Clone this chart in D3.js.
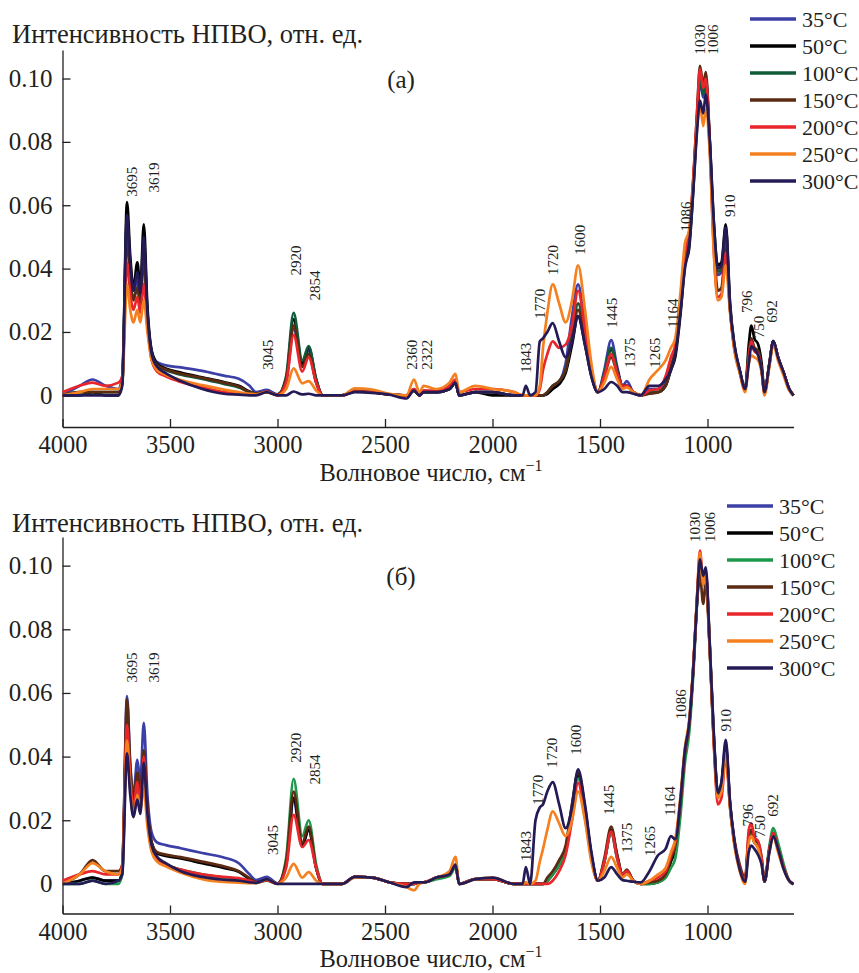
<!DOCTYPE html>
<html>
<head>
<meta charset="utf-8">
<style>
  body { margin: 0; background: #fff; }
  svg text { font-family: "Liberation Serif", "Times New Roman", serif; fill: #231f20; }
  .axis path, .axis line { stroke: #231f20; stroke-width: 1.3; }
</style>
</head>
<body>
<svg id="chart" width="859" height="973"></svg>
<script src="https://cdn.jsdelivr.net/npm/d3@7/dist/d3.min.js"></script>
<script>
// wavenumber grid, cm-1 (shared by all spectra)
const waveNumbers = [
  4000, 3920, 3860, 3800, 3740, 3722, 3700, 3685, 3670, 3652,
  3638, 3622, 3605, 3585, 3560, 3520, 3450, 3350, 3250, 3180,
  3130, 3100, 3050, 3000, 2960, 2925, 2885, 2855, 2820, 2790,
  2700, 2640, 2560, 2480, 2400, 2365, 2340, 2320, 2260, 2200,
  2172, 2155, 2080, 2000, 1900, 1860, 1845, 1825, 1800, 1780,
  1765, 1745, 1720, 1690, 1660, 1630, 1602, 1570, 1540, 1510,
  1480, 1448, 1420, 1395, 1375, 1345, 1310, 1270, 1230, 1195,
  1170, 1150, 1125, 1105, 1086, 1065, 1048, 1035, 1020, 1008,
  990, 970, 952, 935, 915, 895, 875, 850, 825, 808,
  796, 782, 764, 748, 735, 712, 694, 672, 645, 620,
  600
];

const temps = ["35°C", "50°C", "100°C", "150°C", "200°C", "250°C", "300°C"];

// panel (а)
const a35 = [
  0, .003, .005, .003, .002, .006, .055, .040, .033, .036,
  .031, .048, .026, .014, .0105, .0095, .0088, .0077, .0062, .0052,
  .003, .001, .0017, .0003, .004, .021, .010, .014, .004, 0,
  0, .0015, .0012, .0003, 0, .002, 0, .0015, .001, .002,
  .004, 0, .001, .001, 0, 0, 0, 0, 0, 0,
  0, .0005, .002, .004, .010, .025, .035, .022, .008, .001,
  .008, .0174, .009, .003, .0045, .001, 0, .002, .002, .004,
  .009, .014, .028, .043, .049, .068, .088, .099, .094, .097,
  .079, .050, .038, .039, .048, .027, .015, .0075, .002, .012,
  .016, .014, .013, .008, .001, .010, .017, .012, .007, .002,
  0
];
const a50 = [
  0, 0, .001, 0, 0, .004, .061, .044, .034, .042,
  .034, .054, .028, .014, .010, .0085, .0072, .0057, .0042, .003,
  .0012, .0005, .001, .0002, .005, .024, .010, .015, .005, 0,
  0, .0012, .001, .0003, 0, .0015, 0, .001, .001, .002,
  .004, 0, .001, 0, 0, 0, 0, 0, 0, 0,
  0, .0005, .002, .0035, .007, .016, .025, .016, .006, .001,
  .006, .0145, .008, .003, .003, .001, 0, .001, .001, .003,
  .008, .012, .026, .041, .046, .066, .087, .101, .096, .100,
  .081, .054, .041, .042, .054, .029, .016, .008, .002, .016,
  .022, .018, .016, .010, .001, .010, .017, .012, .007, .002,
  0
];
const a100 = [
  0, .001, .001, .001, .001, .004, .054, .038, .031, .034,
  .030, .045, .024, .013, .0095, .008, .0065, .0052, .0036, .0025,
  .001, .0005, .001, .0002, .006, .026, .011, .0155, .005, 0,
  0, .0012, .001, .0003, 0, .0015, 0, .001, .001, .002,
  .004, 0, .001, .001, 0, 0, 0, 0, 0, 0,
  0, .001, .003, .0045, .008, .019, .029, .019, .007, .001,
  .007, .015, .008, .003, .003, .001, 0, .001, .001, .003,
  .009, .014, .028, .043, .048, .068, .088, .100, .095, .098,
  .080, .052, .039, .040, .050, .028, .015, .0075, .002, .013,
  .017, .015, .014, .008, .001, .010, .017, .012, .007, .002,
  0
];
const a150 = [
  0, .001, .001, .001, .001, .004, .050, .036, .030, .034,
  .029, .043, .024, .013, .0095, .0082, .0068, .0055, .004, .0028,
  .001, .0005, .001, .0002, .005, .022, .009, .013, .004, 0,
  0, .0012, .001, .0003, 0, .0015, 0, .001, .001, .002,
  .004, 0, .001, .001, 0, 0, 0, 0, 0, 0,
  0, .001, .003, .0045, .008, .018, .027, .018, .007, .001,
  .006, .012, .007, .003, .003, .001, 0, .0005, .001, .003,
  .009, .014, .028, .043, .049, .069, .090, .104, .098, .102,
  .081, .048, .033, .034, .046, .027, .015, .0075, .002, .013,
  .018, .015, .014, .008, .001, .010, .017, .012, .007, .002,
  0
];
const a200 = [
  .001, .003, .004, .003, .004, .006, .042, .032, .027, .031,
  .026, .035, .022, .011, .0075, .006, .0042, .0025, .001, .0005,
  .0002, .0002, .0012, 0, .004, .019, .0075, .012, .004, 0,
  0, .0012, .001, .0003, 0, .002, 0, .0015, .0015, .003,
  .005, .001, .002, .002, .001, 0, 0, 0, 0, .002,
  .008, .013, .017, .015, .016, .022, .033, .021, .008, .001,
  .006, .013, .007, .003, .003, .001, 0, .0015, .002, .006,
  .012, .016, .030, .045, .051, .070, .090, .103, .097, .100,
  .080, .045, .031, .032, .045, .027, .015, .0075, .002, .012,
  .017, .014, .013, .008, .001, .010, .017, .012, .007, .002,
  0
];
const a250 = [
  0, .001, .002, .002, .002, .004, .035, .027, .023, .027,
  .023, .030, .020, .011, .008, .0065, .0048, .0032, .0018, .001,
  .0005, .0003, .001, 0, .002, .0085, .0038, .0045, .0015, 0,
  0, .0022, .0018, .0005, 0, .005, .001, .003, .002, .004,
  .0068, .001, .003, .002, .001, 0, 0, 0, 0, .003,
  .015, .026, .035, .029, .023, .030, .041, .027, .010, .001,
  .004, .009, .005, .002, .0025, .001, 0, .005, .008, .011,
  .015, .018, .033, .048, .052, .068, .085, .092, .085, .090,
  .077, .044, .030, .031, .041, .026, .014, .007, .001, .010,
  .0125, .012, .011, .007, 0, .009, .016, .011, .006, .0015,
  0
];
const a300 = [
  0, 0, 0, 0, 0, .003, .057, .042, .033, .039,
  .032, .050, .026, .013, .009, .007, .0045, .002, .0005, .0002,
  0, 0, .001, 0, 0, .0012, .0003, .0005, 0, 0,
  0, .001, .0008, .0002, -.001, .0015, 0, .001, .001, .002,
  .004, 0, .001, .001, 0, 0, .003, 0, .001, .017,
  .018, .020, .0228, .017, .012, .017, .025, .016, .006, .001,
  .002, .0042, .003, .001, .001, .0005, 0, .003, .003, .005,
  .008, .013, .027, .040, .047, .066, .084, .093, .089, .095,
  .081, .054, .040, .041, .053, .028, .016, .008, .002, .010,
  .0155, .0145, .0125, .008, .001, .010, .0172, .012, .007, .002,
  0
];

// panel (б)
const b35 = [
  0, .001, .002, .001, .001, .004, .059, .038, .028, .039,
  .032, .0506, .028, .016, .013, .0122, .0112, .0097, .0083, .0065,
  .003, .0012, .0022, .0002, .006, .026, .012, .017, .005, 0,
  0, .0022, .002, .0005, 0, 0, .0005, .0005, .002, .003,
  .006, 0, .0015, .0015, 0, 0, 0, 0, 0, 0,
  0, .001, .003, .006, .011, .025, .035, .024, .009, .001,
  .007, .016, .008, .003, .004, .001, 0, .0005, .001, .003,
  .008, .012, .026, .041, .049, .069, .090, .102, .096, .098,
  .076, .046, .029, .032, .044, .025, .013, .005, .001, .014,
  .016, .013, .012, .007, .0007, .011, .016, .011, .005, .001,
  0
];
const b50 = [
  0, .001, .002, .001, .001, .004, .052, .034, .025, .033,
  .026, .040, .023, .013, .0095, .0088, .008, .0065, .005, .0038,
  .0015, .0005, .0012, .0001, .006, .027, .012, .017, .005, 0,
  0, .0022, .002, .0005, 0, 0, .0005, .0005, .002, .003,
  .006, 0, .0015, .0015, 0, 0, 0, 0, 0, 0,
  0, .001, .003, .006, .010, .024, .034, .023, .009, .001,
  .007, .017, .009, .003, .004, .001, 0, 0, .0005, .002,
  .007, .011, .026, .041, .049, .069, .090, .101, .094, .097,
  .075, .045, .029, .031, .043, .025, .013, .005, .001, .014,
  .017, .014, .012, .007, .0007, .011, .016, .011, .005, .001,
  0
];
const b100 = [
  0, 0, .001, 0, 0, .003, .050, .032, .023, .031,
  .024, .037, .021, .011, .0075, .006, .0045, .003, .002, .0016,
  .0008, .0003, .001, .0001, .008, .033, .015, .020, .006, 0,
  0, .0022, .002, .0005, 0, 0, .0005, .0005, .0015, .0025,
  .005, 0, .0015, .0015, 0, 0, 0, 0, 0, 0,
  0, .001, .003, .006, .010, .023, .033, .022, .008, .001,
  .007, .016, .008, .003, .004, .001, 0, 0, .0005, .002,
  .005, .008, .022, .038, .047, .067, .089, .100, .094, .097,
  .075, .045, .028, .031, .042, .024, .013, .005, .001, .014,
  .016, .013, .012, .007, .0007, .012, .0175, .013, .006, .001,
  0
];
const b150 = [
  0, .003, .0075, .004, .004, .006, .058, .037, .027, .035,
  .027, .042, .024, .013, .010, .0092, .0084, .007, .0055, .004,
  .0018, .0005, .0012, .0001, .007, .029, .013, .018, .005, 0,
  0, .0022, .002, .0005, 0, 0, .0005, .0005, .002, .003,
  .006, 0, .0015, .0015, 0, 0, 0, 0, 0, 0,
  0, .002, .004, .0075, .012, .025, .035, .024, .009, .001,
  .008, .018, .009, .003, .0045, .001, 0, .0005, .001, .003,
  .008, .012, .026, .041, .050, .069, .089, .097, .088, .095,
  .074, .044, .028, .031, .042, .025, .014, .006, .002, .015,
  .017, .014, .013, .008, .0007, .011, .016, .011, .005, .001,
  0
];
const b200 = [
  .001, .003, .004, .003, .003, .006, .050, .033, .024, .032,
  .025, .040, .022, .011, .0075, .006, .0045, .003, .0022, .0018,
  .001, .0004, .0012, 0, .005, .0217, .0116, .0138, .005, 0,
  0, .0022, .002, .0005, 0, 0, .0005, .0005, .002, .003,
  .006, 0, .0015, .0015, 0, 0, 0, 0, 0, 0,
  0, 0, .001, .004, .009, .020, .0317, .021, .008, .001,
  .007, .0164, .008, .003, .004, .001, 0, .001, .002, .004,
  .009, .013, .027, .042, .050, .069, .091, .1047, .095, .098,
  .075, .043, .025, .027, .040, .024, .013, .005, .001, .017,
  .019, .0148, .0133, .008, .0007, .011, .016, .011, .005, .001,
  0
];
const b250 = [
  0, .003, .0065, .004, .003, .005, .045, .030, .021, .028,
  .023, .030, .018, .010, .007, .0055, .0035, .0015, .0006, .0004,
  .0002, .0002, .0014, 0, .002, .0063, .002, .0037, .001, 0,
  0, .002, .002, .0005, -.001, -.002, 0, .0005, .002, .004,
  .0085, 0, .0015, .002, 0, 0, .0005, 0, .001, .007,
  .011, .017, .0228, .019, .015, .020, .029, .020, .007, .001,
  .004, .0085, .005, .002, .003, .001, 0, .001, .003, .005,
  .010, .014, .028, .043, .051, .070, .091, .104, .094, .097,
  .075, .044, .027, .029, .041, .024, .012, .004, 0, .013,
  .015, .013, .011, .006, .0007, .010, .015, .010, .0045, .001,
  0
];
const b300 = [
  0, 0, .001, 0, .001, .003, .041, .028, .021, .0265,
  .022, .038, .022, .012, .0085, .0065, .004, .0022, .0013, .001,
  .0005, .0003, .0015, 0, 0, 0, 0, 0, 0, 0,
  0, .0022, .002, .0005, -.001, .0005, .0005, .0005, .002, .003,
  .006, 0, .0015, .002, 0, 0, .0053, 0, .020, .024,
  .025, .029, .032, .025, .0175, .024, .036, .025, .010, .001,
  .002, .0053, .003, .0012, .001, .0007, .0005, .004, .009, .011,
  .015, .014, .027, .042, .050, .069, .090, .102, .0968, .0995,
  .076, .046, .0286, .032, .0453, .0255, .0135, .0045, .0007, .010,
  .012, .011, .009, .006, .0007, .010, .015, .011, .0045, .001,
  0
];

const colorsA = ["#3c3fa6", "#000000", "#0f5b3a", "#5a2a12", "#e8262b", "#f5801f", "#241a56"];
const colorsB = ["#3c3fa6", "#000000", "#1f9a4d", "#5a2a12", "#e8262b", "#f5801f", "#241a56"];

// band labels: text, wavenumber where the label stands, intensity at its foot
const peakTextA = ["3695", "3619", "3045", "2920", "2854", "2360", "2322", "1843", "1770", "1720", "1600",
  "1445", "1375", "1265", "1164", "1086", "1030", "1006", "910", "796", "750", "692"];
const peakWA = [3677, 3574, 3044, 2914, 2826, 2374, 2305, 1844, 1779, 1719, 1593,
  1444, 1360, 1244, 1160, 1100, 1035, 975, 895, 819, 763, 702];
const peakVA = [0.0627, 0.064, 0.0081, 0.0378, 0.0299, 0.0081, 0.0081, 0.0071, 0.0242, 0.038, 0.0444,
  0.0213, 0.0087, 0.0087, 0.0213, 0.0517, 0.1076, 0.1076, 0.0563, 0.026, 0.018, 0.0229];

const peakTextB = ["3695", "3619", "3045", "2920", "2854", "1843", "1770", "1720", "1600",
  "1445", "1375", "1265", "1164", "1086", "1030", "1006", "910", "796", "750", "692"];
const peakWB = [3677, 3574, 3021, 2914, 2826, 1844, 1788, 1723, 1612,
  1458, 1374, 1267, 1174, 1123, 1058, 988, 914, 812, 756, 695];
const peakVB = [0.0633, 0.0633, 0.0091, 0.0381, 0.0312, 0.0072, 0.0249, 0.0365, 0.0406,
  0.0217, 0.0098, 0.0088, 0.0214, 0.0517, 0.1074, 0.1074, 0.0479, 0.018, 0.0145, 0.0211];

const xTicks = [4000, 3500, 3000, 2500, 2000, 1500, 1000];
const yTicks = [0, 0.02, 0.04, 0.06, 0.08, 0.10];

const svg = d3.select("#chart");

function drawPanel(p) {
  const g = svg.append("g");
  const x = d3.scaleLinear().domain([4000, 600]).range([62.5, 793.5]);
  const y = d3.scaleLinear().domain(p.yDomain).range(p.yRange);

  g.append("g").attr("class", "axis")
    .attr("transform", `translate(0,${p.yRange[0]})`)
    .call(d3.axisBottom(x).tickValues(xTicks).tickSize(-8).tickSizeOuter(0).tickPadding(9)
      .tickFormat(d3.format("d")))
    .call(a => a.selectAll("text").attr("font-size", 24.5).attr("fill", "#231f20"));

  g.append("g").attr("class", "axis")
    .attr("transform", "translate(62.5,0)")
    .call(d3.axisLeft(y).tickValues(yTicks).tickSize(-8).tickSizeOuter(0).tickPadding(10)
      .tickFormat(d => d === 0 ? "0" : d3.format(".2f")(d)))
    .call(a => a.selectAll("text").attr("font-size", 25).attr("fill", "#231f20"));

  g.append("text").attr("x", 12).attr("y", p.titleY)
    .attr("font-size", 26.5).text("Интенсивность НПВО, отн. ед.");

  const xt = g.append("text").attr("x", 431).attr("y", p.yRange[0] + 53.5)
    .attr("text-anchor", "middle").attr("font-size", 24.5);
  xt.append("tspan").text("Волновое число, см");
  xt.append("tspan").attr("dy", -10).attr("font-size", 16).text("−1");

  g.append("text").attr("x", 401).attr("y", p.tagY)
    .attr("text-anchor", "middle").attr("font-size", 25).text(p.tag);

  const line = d3.line()
    .x((d, i) => x(waveNumbers[i]))
    .y(d => y(d))
    .curve(d3.curveMonotoneX);

  g.selectAll("path.spec").data(p.series).enter().append("path")
    .attr("class", "spec")
    .attr("d", d => line(d))
    .attr("fill", "none")
    .attr("stroke", (d, i) => p.colors[i])
    .attr("stroke-width", 2.7)
    .attr("stroke-linejoin", "round");

  g.selectAll("text.peak").data(p.peakText).enter().append("text")
    .attr("class", "peak")
    .attr("transform", (d, i) => `translate(${x(p.peakW[i])},${y(p.peakV[i])}) rotate(-90)`)
    .attr("dy", "0.35em")
    .attr("font-size", 15)
    .text(d => d);

  const leg = g.append("g");
  temps.forEach((t, i) => {
    const ly = p.legY + i * 27;
    leg.append("line").attr("x1", p.legX).attr("x2", p.legX + 46)
      .attr("y1", ly).attr("y2", ly)
      .attr("stroke", p.colors[i]).attr("stroke-width", 3.5);
    leg.append("text").attr("x", p.legX + 52).attr("y", ly).attr("dy", "0.35em")
      .attr("font-size", 22).text(t);
  });
}

drawPanel({
  series: [a35, a50, a100, a150, a200, a250, a300],
  colors: colorsA,
  yDomain: [-0.01, 0.109], yRange: [427, 50],
  titleY: 43, tag: "(а)", tagY: 88,
  peakText: peakTextA, peakW: peakWA, peakV: peakVA,
  legX: 750, legY: 19
});

drawPanel({
  series: [b35, b50, b100, b150, b200, b250, b300],
  colors: colorsB,
  yDomain: [-0.0093, 0.109], yRange: [913.5, 537],
  titleY: 532, tag: "(б)", tagY: 585,
  peakText: peakTextB, peakW: peakWB, peakV: peakVB,
  legX: 727, legY: 506
});
</script>
</body>
</html>
